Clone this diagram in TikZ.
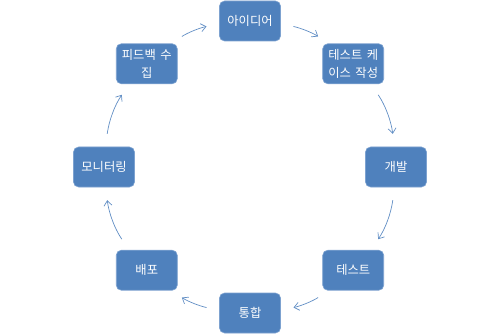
\documentclass[tikz,border=0pt]{standalone}
\usepackage{fontspec}
\newfontfamily\kor[WordSpace=1.6]{Noto Sans CJK KR}
\usetikzlibrary{arrows.meta}
\definecolor{smartblue}{RGB}{79,129,189}
\definecolor{smartedge}{RGB}{125,162,208}

\begin{document}
\begin{tikzpicture}[x=1pt, y=1pt,
    phase/.style={rectangle, draw=smartedge, line width=0.6pt, fill=smartblue, rounded corners=5pt, text=white, align=center, minimum width=61pt, minimum height=40pt, inner sep=1pt, font=\kor\fontsize{12.3}{18}\selectfont},
    link/.style={draw=smartblue!90!white, line width=0.7pt, shorten <=13pt, shorten >=13pt, -{Straight Barb[length=5pt, width=8pt]}}]
        \useasboundingbox (0,0) rectangle (500,335);
        \coordinate (hub) at (250,168);

        \node [phase] (idea) at ([shift={(90:146)}]hub) {아이디어};
        \node [phase] (testcase) at ([shift={(45:146)}]hub) {테스트 케\\이스 작성};
        \node [phase] (dev) at ([shift={(0:146)}]hub) {개발};
        \node [phase] (test) at ([shift={(-45:146)}]hub) {테스트};
        \node [phase] (integ) at ([shift={(-90:146)}]hub) {통합};
        \node [phase] (deploy) at ([shift={(-135:146)}]hub) {배포};
        \node [phase] (monitor) at ([shift={(180:146)}]hub) {모니터링};
        \node [phase] (feedback) at ([shift={(135:146)}]hub) {피드백 수\\집};

        % arcs of the cycle, clockwise
        \draw [link] (idea.-5) to[out=-12.3, in=147.4] (testcase.140);
        \draw [link] (testcase.-49) to[out=-55.8, in=97.9] (dev.94);
        \draw [link] (dev.-94) to[out=-97.9, in=55.8] (test.49);
        \draw [link] (test.-140) to[out=-147.4, in=12.3] (integ.5);
        \draw [link] (integ.175) to[out=167.7, in=-32.6] (deploy.-40);
        \draw [link] (deploy.131) to[out=124.2, in=-82.1] (monitor.-86);
        \draw [link] (monitor.86) to[out=82.1, in=-124.2] (feedback.-131);
        \draw [link] (feedback.40) to[out=32.6, in=-167.7] (idea.185);
    \end{tikzpicture}
\end{document}
